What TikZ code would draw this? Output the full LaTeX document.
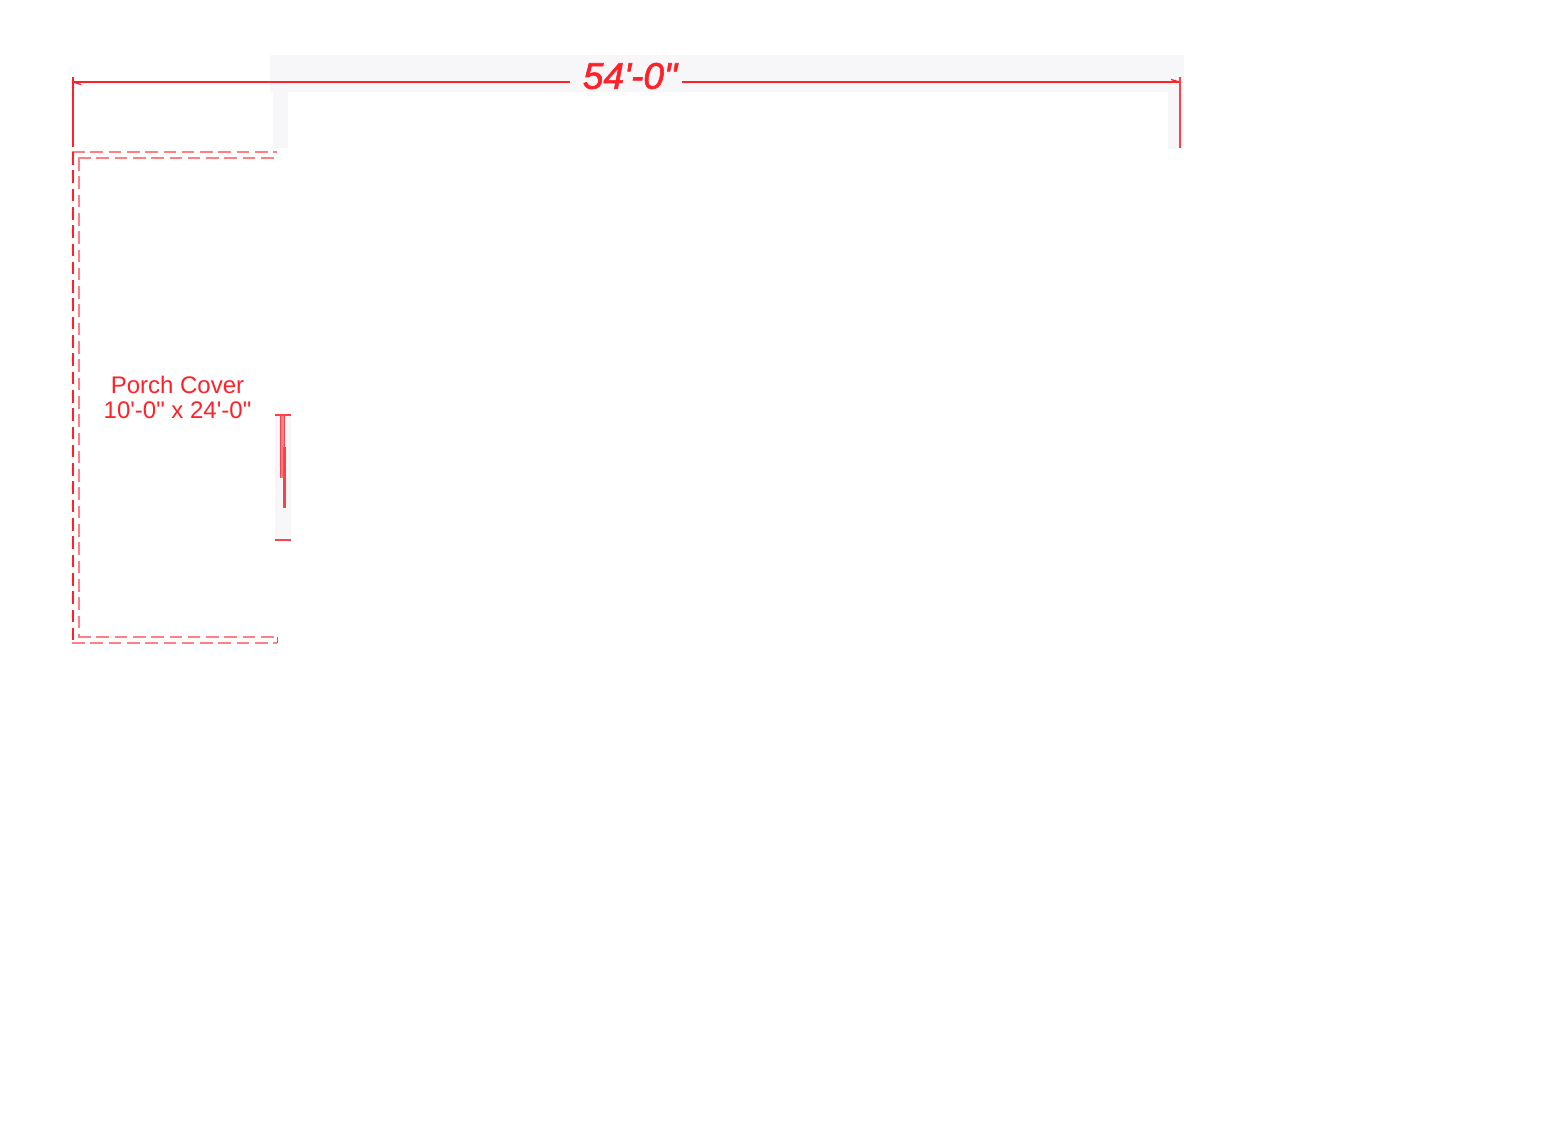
\documentclass[tikz,border=0pt]{standalone}
\usepackage{fontspec}
\setmainfont{Liberation Sans}[Ligatures=TeXOff]
\definecolor{cadred}{HTML}{FF2028}
\definecolor{cadmid}{HTML}{FF4048}
\definecolor{cadpink}{HTML}{FF8084}
\definecolor{wallgray}{HTML}{F7F7FA}
\tikzset{
  x=1pt,y=-1pt,
  wallfill/.style={fill=wallgray,draw=none},
  dimline/.style={draw=cadred,line width=1.4pt},
  dimtip/.style={draw=cadred,line width=1.3pt},
  porchline/.style={draw=cadpink,line width=2.5pt,dash pattern=on 12.6pt off 5.7pt},
  porchred/.style={draw=cadred,line width=1.2pt,dash pattern=on 12.6pt off 5.7pt},
  porchtext/.style={text=cadred,font=\fontsize{24}{24.5}\selectfont,align=center,inner sep=0pt},
  dimtext/.style={text=cadred,font=\fontsize{37}{38}\selectfont\itshape\addfontfeature{FakeBold=1.6},inner sep=0pt}
}
\begin{document}
\begin{tikzpicture}
\useasboundingbox (0,0) rectangle (1560,1129);
\fill[white] (0,0) rectangle (1560,1129);
% grey wall ghosts
\fill[wallfill] (270,55) rectangle (1184,92);
\fill[wallfill] (273,92) rectangle (288,148);
\fill[wallfill] (1168,92) rectangle (1184,149);
\fill[wallfill] (275,415) rectangle (291,540);
% named points
\coordinate (dl) at (73,82);
\coordinate (dlgap) at (570,82);
\coordinate (drgap) at (682,82);
\coordinate (dr) at (1179.5,82);
\coordinate (tlTop) at (73,77);
\coordinate (tlBot) at (73,147);
\coordinate (trTop) at (1179.5,77);
\coordinate (trBot) at (1179.5,148);
\node[dimtext] (dim) at (630,76) {54'-0"};
\node[porchtext] (porch) at (177.5,397.5) {Porch Cover\\10'-0" x 24'-0"};
% dimension line
\draw[dimline] (dl) -- (dlgap);
\draw[dimline] (drgap) -- (dr);
\draw[dimline,line width=1.8pt] (tlTop) -- (tlBot);
\draw[draw=cadmid,line width=2pt] (trTop) -- (trBot);
\draw[dimtip] (dl) -- (81,84.5);
\draw[dimtip] (dr) -- (1171,79.5);
% porch cover outline (dashed)
\draw[porchline] (72,152) -- (277,152);
\draw[porchline] (78,158) -- (277,158);
\draw[porchline] (72,643) -- (277,643);
\draw[porchline] (78,637) -- (277,637);
\draw[porchline] (73,152) -- (73,643);
\draw[porchred] (73,152) -- (73,643);
\draw[porchline] (79,158) -- (79,637);
\draw[draw=cadmid,line width=1.2pt] (277.5,637) -- (277.5,643);
% post / door symbol
\draw[draw=cadmid,line width=2.6pt] (275,415) -- (291,415);
\draw[draw=cadmid,line width=2.6pt] (275,540) -- (291,540);
\draw[draw=cadpink,line width=5.6pt] (282.5,416) -- (282.5,478);
\draw[draw=cadmid,line width=1.5pt] (280.3,416) -- (280.3,478);
\draw[draw=cadmid,line width=1.5pt] (284.7,416) -- (284.7,478);
\draw[draw=cadmid,line width=3.6pt] (284.5,447) -- (284.5,508);
\end{tikzpicture}
\end{document}
